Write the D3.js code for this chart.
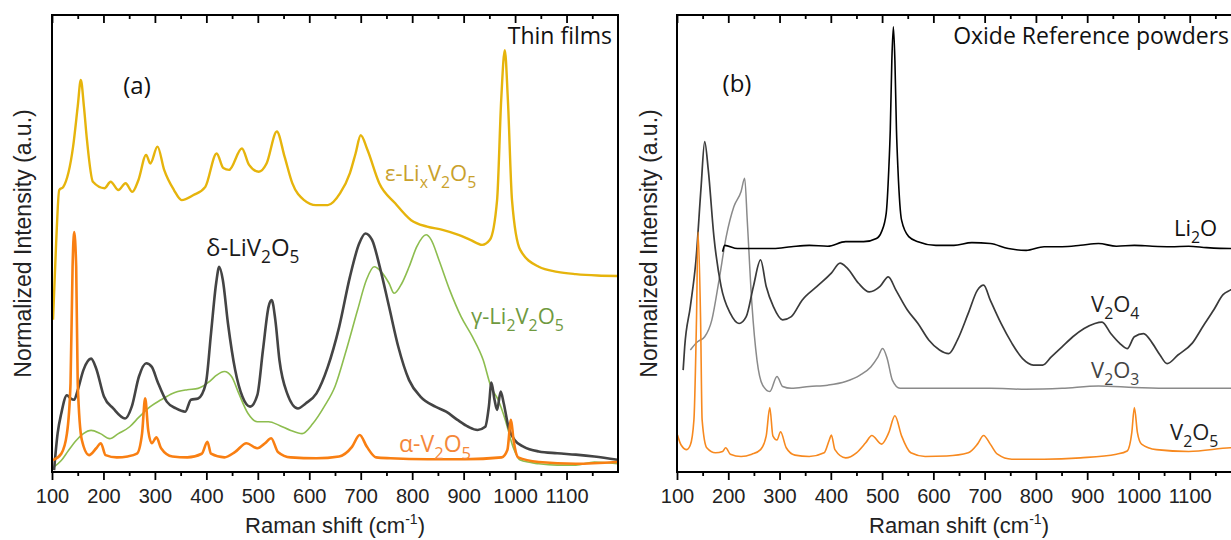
<!DOCTYPE html>
<html>
<head>
<meta charset="utf-8">
<script src="https://cdn.jsdelivr.net/npm/d3@7"></script>
<style>
  body { margin: 0; background: #fff; }
  svg { display: block; }
</style>
</head>
<body>
<script>
// chart size
var width = 1231,
    height = 540;

// x ticks (Raman shift, cm-1)
var xMajor = d3.range(100, 1101, 100);
var xMinor = d3.range(150, 1200, 100);

// panel (a) : thin films, [wavenumber, normalized intensity %]
var epsLixV2O5 = [[102,33.3],[108,50],[114,61.7],[122,62.4],[141,71.2],[150,80],[156,85.8],[162,80],[168,72.6],[179.5,63.5],[202,62.1],[214,63.5],[229,61.7],[243,63.2],[256,61.3],[268,63.9],[283,69.4],[291,67.5],[305,71.2],[318,66.1],[337,61.7],[352,59.5],[375,60.6],[398,62.4],[420,69.7],[433,66.5],[444,66.1],[469,70.8],[483,67.2],[502,65.7],[517,67.5],[537,74.5],[552,69],[567,63.2],[590,59.5],[613,58.4],[636,58.4],[660,61],[679,65.4],[690,69.7],[700,73.7],[713,70.5],[736,63.2],[767,58.8],[798,55.1],[829,53.7],[859,53],[890,51.9],[913,50.8],[936,49.7],[951,50.8],[965,59.5],[973,81.4],[980,92.3],[986,81.4],[994,59.5],[1010,48.6],[1046,44.9],[1082,43.8],[1118,43.3],[1160,43],[1199,42.9]];

var deltaLiV2O5 = [[104,0.4],[111,8.5],[118,12.8],[129,16.8],[136,16.1],[143,15.8],[150,17.9],[161,22.3],[176,24.8],[186,22.6],[201,16.5],[219,13.9],[242,11.7],[255,14.3],[269,20.9],[283,23.8],[294,23],[305,19.8],[323,15.4],[341,13.9],[359,13.2],[370,15.8],[384,16.1],[399,19.4],[409,30.3],[419,41.3],[425,44.9],[432,42],[442,32.5],[456,22.3],[470,16.5],[485,14.3],[499,16.8],[510,26.7],[521,36.2],[527,37.6],[534,33.3],[542,24.5],[557,17.2],[578,13.9],[593,15],[614,17.2],[636,23],[658,31.7],[679,42.7],[697,50],[709,52.2],[722,50.8],[737,44.9],[755,36.2],[773,27.4],[794,20.1],[816,16.5],[845,14.3],[866,13.2],[888,11.4],[909,9.9],[927,9.2],[942,9.9],[949,14.3],[954,19.6],[960,15.8],[965,13.6],[972,17.6],[978,15],[987,9.9],[999,7],[1017,5.5],[1046,4.5],[1082,4.1],[1118,3.8],[1154,3.4],[1199,2.7]];

var gammaLi2V2O5 = [[104,1.1],[118,2.5],[132,4.7],[147,6.9],[161,8.4],[176,9.1],[194,8.4],[212,7.3],[229,8.4],[251,9.9],[269,12],[291,14.3],[312,15.8],[334,17.2],[363,18],[384,18.3],[406,19.8],[420,21.2],[435,22],[449,20.9],[463,17.2],[481,12.8],[499,11],[521,11],[542,10.2],[564,9.1],[586,8.4],[607,10.6],[629,14.3],[650,18.7],[672,26.7],[694,35.5],[711,42],[726,44.9],[740,43.8],[755,41.3],[765,39.1],[780,41.3],[794,44.9],[809,49.3],[827,51.9],[837,50.8],[852,46.4],[873,39.8],[895,34],[917,29.6],[938,24.5],[953,18.7],[967,15.8],[981,11.4],[996,5.5],[1010,2.6],[1046,1.8],[1082,1.5],[1118,1.5],[1154,2.2],[1199,1.8]];

var alphaV2O5 = [[102,2.6],[118,4],[129,8.4],[136,19.4],[140,44.9],[143,52.5],[147,44.9],[150,19.4],[158,7],[172,3.7],[186,5.2],[195,6.3],[204,3.7],[226,3.2],[247,3.4],[265,4],[275,8.4],[281,16.1],[287,9.1],[294,6.3],[303,7.6],[312,5.2],[334,3.4],[363,3.2],[391,4],[402,6.6],[409,4],[435,3.2],[456,4.4],[478,6.3],[499,5.2],[514,6.3],[526,7.4],[539,4.4],[564,3.2],[614,3],[658,3.4],[683,5.5],[698,8.1],[712,5.5],[730,3.2],[758,3],[830,2.8],[902,2.8],[974,3.2],[985,4.8],[992,11.4],[997,7],[1006,3.2],[1046,2.2],[1118,1.8],[1199,2.2]];

// panel (b) : oxide reference powders
var li2O = [[189,48.2],[193,49.6],[218,48.9],[253,48.9],[288,48.9],[323,49.3],[358,49.6],[394,49.4],[429,50.4],[464,50.4],[489,51.1],[499,52.6],[508,56.6],[513,66.1],[516,75],[519,90],[522,97.4],[525,90],[528,75],[531,66.1],[538,55.1],[552,51.5],[570,50.4],[605,49.6],[640,49.6],[675,50.2],[711,50],[746,48.9],[781,48.5],[816,49.3],[851,49.3],[887,49.6],[922,50],[957,49.4],[992,49.6],[1027,49.4],[1063,49.3],[1098,49.4],[1133,49.1],[1179,48.9],[1200,49]];

var v2O4 = [[112,22.3],[115,27.4],[126,36.2],[137,46.4],[147,62.4],[154,72.3],[161,66.1],[172,51.5],[186,40.6],[204,34.7],[221,32.5],[235,34],[249,40.6],[263,46.4],[274,40.6],[288,36.2],[306,33.3],[323,34],[344,37.6],[373,40.6],[401,43.5],[418,45.7],[432,44.6],[454,41.3],[475,39.4],[496,40.6],[512,42.7],[527,39.8],[549,35.5],[570,32.5],[591,28.9],[612,26.7],[630,25.9],[647,28.9],[668,34.7],[686,39.8],[698,40.9],[711,37.6],[732,32.5],[753,28.2],[774,24.8],[795,23.4],[813,23.4],[830,25.2],[851,27.4],[872,29.6],[894,31.4],[915,32.5],[929,32.8],[946,30.3],[963,28.2],[978,27],[992,29.6],[1010,30.3],[1027,28.2],[1042,25.6],[1056,23.7],[1077,25.6],[1105,28.2],[1126,31.9],[1147,35.5],[1165,38.8],[1179,39.8],[1200,41]];

var v2O3 = [[126,26.7],[140,28.5],[154,29.6],[168,33.3],[182,42],[196,51.5],[211,58.1],[225,61.4],[232,64.3],[237,55.1],[246,36.9],[256,24.5],[267,19],[281,17.6],[295,20.9],[306,18.7],[323,18.3],[358,18.7],[394,19],[429,19.8],[457,21.2],[478,23],[492,25.2],[501,27],[510,24.8],[520,20.1],[535,18.3],[570,18.3],[640,18.3],[711,18.3],[781,18.1],[851,18.3],[922,18.8],[992,18.5],[1063,18.3],[1179,18.3],[1200,18.3]];

var v2O5 = [[101,8.1],[108,5.9],[119,4.9],[126,5.9],[133,11.4],[138,33.3],[141,52.5],[146,33.3],[149,11.4],[158,5.3],[175,4.2],[189,4.5],[195,5.3],[204,3.9],[225,3.4],[246,3.9],[263,4.9],[274,7.9],[281,14.1],[287,7.9],[295,7],[302,8.8],[313,5.3],[330,3.7],[358,3.4],[387,4.2],[397,7],[401,8.1],[408,4.9],[429,3.1],[450,4.2],[468,6.4],[480,8],[499,6.1],[513,8.6],[525,12.3],[538,7.9],[556,4.2],[584,3.4],[626,3.5],[668,4.2],[686,6.1],[698,8],[711,6.1],[725,3.9],[753,2.8],[816,2.8],[887,3.1],[957,3.9],[978,4.6],[987,8.6],[992,14.1],[998,8.6],[1006,6.1],[1035,4.9],[1098,4.5],[1179,5.3],[1200,5.4]];

var svg = d3.select("body")
    .append("svg")
    .attr("width", width)
    .attr("height", height);

var plotTop = 15, plotBottom = 472;

var panels = [
  { left: 52, right: 618, tag: "(a)", tagX: 137, tagY: 94,
    title: "Thin films", titleX: 612,
    yTitleX: 31,
    series: [
      { data: epsLixV2O5, color: "#e6b40c", w: 2.4 },
      { data: gammaLi2V2O5, color: "#8dbd4f", w: 1.6 },
      { data: deltaLiV2O5, color: "#444444", w: 2.6 },
      { data: alphaV2O5, color: "#f97f12", w: 2.6 }
    ],
    labels: [
      { x: 385, y: 181, size: 22, color: "#c9a12c", parts: [["ε-Li"],["x",1],["V"],["2",1],["O"],["5",1]] },
      { x: 206, y: 256, size: 24, color: "#1a1a1a", parts: [["δ-LiV"],["2",1],["O"],["5",1]] },
      { x: 471, y: 324, size: 22, color: "#6f9a3f", parts: [["γ-Li"],["2",1],["V"],["2",1],["O"],["5",1]] },
      { x: 399, y: 452, size: 23, color: "#f5883a", parts: [["α-V"],["2",1],["O"],["5",1]] }
    ] },
  { left: 677, right: 1241, tag: "(b)", tagX: 737, tagY: 92,
    title: "Oxide Reference powders", titleX: 1229,
    yTitleX: 657,
    series: [
      { data: v2O3, color: "#8a8a8a", w: 1.5 },
      { data: v2O4, color: "#3a3a3a", w: 1.7 },
      { data: li2O, color: "#000000", w: 1.6 },
      { data: v2O5, color: "#f7891f", w: 1.6 }
    ],
    labels: [
      { x: 1174, y: 236, size: 22, color: "#111", parts: [["Li"],["2",1],["O"]] },
      { x: 1091, y: 312, size: 22, color: "#222", parts: [["V"],["2",1],["O"],["4",1]] },
      { x: 1091, y: 378, size: 22, color: "#444", parts: [["V"],["2",1],["O"],["3",1]] },
      { x: 1170, y: 440, size: 22, color: "#222", parts: [["V"],["2",1],["O"],["5",1]] }
    ] }
];

var y = d3.scaleLinear().domain([0, 100]).range([plotBottom, plotTop]);

// text with subscripts
function richText(g, x, yy, parts, size, color) {
  var t = g.append("text")
      .attr("x", x).attr("y", yy)
      .attr("font-family", "Open Sans")
      .attr("font-size", size)
      .attr("fill", color);
  var down = false;
  parts.forEach(function(p){
    var ts = t.append("tspan").text(p[0]);
    if (p[1] && !down) { ts.attr("dy", size * 0.3).attr("font-size", size * 0.72); down = true; }
    else if (p[1]) { ts.attr("font-size", size * 0.72); }
    else if (down) { ts.attr("dy", -size * 0.3); down = false; }
  });
  return t;
}

panels.forEach(function(p){
  var x = d3.scaleLinear().domain([100, 1200]).range([p.left, p.right]);
  var g = svg.append("g");

  var line = d3.line()
    .x(function(d){ return x(d[0]); })
    .y(function(d){ return y(d[1]); })
    .curve(d3.curveMonotoneX);

  p.series.forEach(function(s){
    g.append("path")
      .attr("d", line(s.data))
      .attr("fill", "none")
      .attr("stroke", s.color)
      .attr("stroke-width", s.w)
      .attr("stroke-linejoin", "round");
  });

  // bottom axis, ticks outward
  var bx = g.append("g").attr("transform", "translate(0," + plotBottom + ")")
    .call(d3.axisBottom(x).tickValues(xMajor).tickSize(8).tickPadding(9)
      .tickFormat(d3.format("d")));
  bx.selectAll("text").attr("font-family", "Liberation Sans").attr("font-size", 20).attr("fill", "#222");
  g.append("g").attr("transform", "translate(0," + plotBottom + ")")
    .call(d3.axisBottom(x).tickValues(xMinor).tickSize(4).tickFormat(""));

  // top axis, ticks inward
  g.append("g").attr("transform", "translate(0," + plotTop + ")")
    .call(d3.axisTop(x).tickValues(xMajor).tickSize(-8).tickFormat(""));
  g.append("g").attr("transform", "translate(0," + plotTop + ")")
    .call(d3.axisTop(x).tickValues(xMinor).tickSize(-4).tickFormat(""));

  g.selectAll(".domain").remove();
  g.selectAll(".tick line").attr("stroke", "#000").attr("stroke-width", 1.8);

  g.append("rect")
    .attr("x", p.left).attr("y", plotTop)
    .attr("width", p.right - p.left).attr("height", plotBottom - plotTop)
    .attr("fill", "none").attr("stroke", "#000").attr("stroke-width", 2);

  // axis titles
  var xt = g.append("text")
    .attr("x", (p.left + p.right) / 2).attr("y", 533)
    .attr("text-anchor", "middle")
    .attr("font-family", "Liberation Sans").attr("font-size", 22).attr("fill", "#222");
  xt.append("tspan").text("Raman shift (cm");
  xt.append("tspan").text("-1").attr("font-size", 14).attr("dy", -9);
  xt.append("tspan").text(")").attr("dy", 9);

  g.append("text")
    .attr("transform", "translate(" + p.yTitleX + "," + ((plotTop + plotBottom) / 2) + ") rotate(-90)")
    .attr("text-anchor", "middle")
    .attr("font-family", "Liberation Sans").attr("font-size", 23).attr("fill", "#222")
    .text("Normalized Intensity (a.u.)");

  g.append("text")
    .attr("x", p.tagX).attr("y", p.tagY)
    .attr("text-anchor", "middle")
    .attr("font-family", "Open Sans").attr("font-size", 24).attr("fill", "#111")
    .text(p.tag);

  g.append("text")
    .attr("x", p.titleX).attr("y", 44)
    .attr("text-anchor", "end")
    .attr("font-family", "Open Sans").attr("font-size", 23).attr("fill", "#111")
    .text(p.title);

  p.labels.forEach(function(l){
    richText(g, l.x, l.y, l.parts, l.size, l.color);
  });
});
</script>
</body>
</html>
